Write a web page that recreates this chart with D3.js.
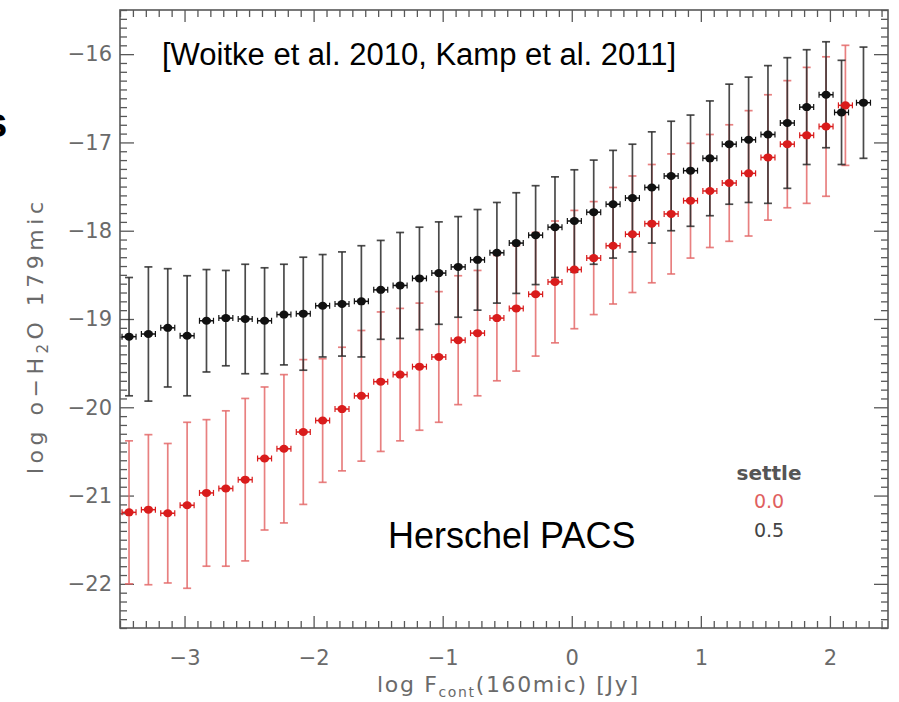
<!DOCTYPE html>
<html>
<head>
<meta charset="utf-8">
<script src="https://cdn.jsdelivr.net/npm/d3@7/dist/d3.min.js"></script>
<style>
  html, body { margin: 0; padding: 0; background: #fff; }
  svg { display: block; }
</style>
</head>
<body>
<svg id="chart" width="899" height="702"></svg>
<script>
// log F_cont(160mic) of each model bin
const xSettle00 = [-3.43, -3.28, -3.13, -2.98, -2.83, -2.68, -2.53, -2.38, -2.23, -2.08,
                   -1.93, -1.78, -1.63, -1.48, -1.33, -1.18, -1.03, -0.88, -0.73, -0.58,
                   -0.43, -0.28, -0.13, 0.02, 0.17, 0.32, 0.47, 0.62, 0.77, 0.92,
                   1.07, 1.22, 1.37, 1.52, 1.67, 1.82, 1.97, 2.12];
const xSettle05 = [-3.43, -3.28, -3.13, -2.98, -2.83, -2.68, -2.53, -2.38, -2.23, -2.08,
                   -1.93, -1.78, -1.63, -1.48, -1.33, -1.18, -1.03, -0.88, -0.73, -0.58,
                   -0.43, -0.28, -0.13, 0.02, 0.17, 0.32, 0.47, 0.62, 0.77, 0.92,
                   1.07, 1.22, 1.37, 1.52, 1.67, 1.82, 1.97, 2.09, 2.26];

// mean log line flux o-H2O 179mic per bin
const meanSettle00 = [-21.19, -21.16, -21.20, -21.11, -20.97, -20.92, -20.82, -20.58, -20.47, -20.28,
                      -20.15, -20.02, -19.87, -19.71, -19.63, -19.54, -19.43, -19.24, -19.16, -18.99,
                      -18.88, -18.72, -18.58, -18.44, -18.31, -18.17, -18.04, -17.92, -17.81, -17.66,
                      -17.55, -17.46, -17.35, -17.17, -17.02, -16.92, -16.82, -16.58];
const meanSettle05 = [-19.20, -19.17, -19.10, -19.19, -19.02, -18.99, -19.00, -19.02, -18.95, -18.94,
                      -18.85, -18.83, -18.80, -18.67, -18.62, -18.54, -18.48, -18.41, -18.33, -18.25,
                      -18.14, -18.05, -17.96, -17.89, -17.79, -17.70, -17.63, -17.51, -17.38, -17.32,
                      -17.18, -17.02, -16.97, -16.91, -16.78, -16.60, -16.46, -16.66, -16.55];

// scatter (1 sigma) per bin
const sigmaSettle00 = [0.81, 0.85, 0.79, 0.94, 0.83, 0.88, 0.92, 0.81, 0.84, 0.82,
                       0.70, 0.70, 0.74, 0.79, 0.75, 0.72, 0.74, 0.73, 0.71, 0.71,
                       0.71, 0.70, 0.69, 0.67, 0.64, 0.66, 0.66, 0.67, 0.68, 0.65,
                       0.64, 0.66, 0.71, 0.71, 0.72, 0.77, 0.79, 0.68];
const sigmaSettle05 = [0.67, 0.76, 0.67, 0.68, 0.58, 0.54, 0.62, 0.60, 0.57, 0.64,
                       0.58, 0.59, 0.63, 0.56, 0.60, 0.58, 0.58, 0.57, 0.57, 0.57,
                       0.57, 0.56, 0.57, 0.58, 0.59, 0.61, 0.61, 0.63, 0.62, 0.63,
                       0.65, 0.68, 0.71, 0.78, 0.74, 0.65, 0.60, 0.59, 0.63];

const xTicks = [-3, -2, -1, 0, 1, 2];
const yTicks = [-22, -21, -20, -19, -18, -17, -16];
const legendLabels = ["0.0", "0.5"];

const svg = d3.select("#chart");
const frame = { left: 120, right: 888, top: 10, bottom: 628 };

const x = d3.scaleLinear().domain([-3.5, 2.45]).range([frame.left, frame.right]);
const y = d3.scaleLinear().domain([-22.5, -15.5]).range([frame.bottom, frame.top]);

const axisColor = "#585858";
const labelColor = "#6a6a6a";
const font = "'DejaVu Sans', sans-serif";

const xMinor = d3.range(-35, 25).map(d => d / 10).filter(d => !xTicks.includes(Math.round(d * 10) / 10));
const yMinor = d3.range(-225, -154).map(d => d / 10).filter(d => !yTicks.includes(Math.round(d * 10) / 10));

function styleAxis(g) {
  g.select(".domain").remove();
  g.selectAll("line").attr("stroke", axisColor).attr("stroke-width", 1.3);
  g.selectAll("text").attr("fill", labelColor).attr("font-family", font).attr("font-size", 21);
}

// bottom axis with labels
svg.append("g").attr("transform", `translate(0,${frame.bottom})`)
  .call(d3.axisBottom(x).tickValues(xTicks).tickSize(-12).tickPadding(22).tickFormat(d3.format("d")))
  .call(styleAxis);
svg.append("g").attr("transform", `translate(0,${frame.bottom})`)
  .call(d3.axisBottom(x).tickValues(xMinor).tickSize(-7).tickFormat(""))
  .call(styleAxis);
// top axis, ticks only
svg.append("g").attr("transform", `translate(0,${frame.top})`)
  .call(d3.axisTop(x).tickValues(xTicks).tickSize(-12).tickFormat(""))
  .call(styleAxis);
svg.append("g").attr("transform", `translate(0,${frame.top})`)
  .call(d3.axisTop(x).tickValues(xMinor).tickSize(-7).tickFormat(""))
  .call(styleAxis);
// left axis with labels
svg.append("g").attr("transform", `translate(${frame.left},0)`)
  .call(d3.axisLeft(y).tickValues(yTicks).tickSize(-14).tickPadding(8).tickFormat(d3.format("d")))
  .call(styleAxis);
svg.append("g").attr("transform", `translate(${frame.left},0)`)
  .call(d3.axisLeft(y).tickValues(yMinor).tickSize(-7).tickFormat(""))
  .call(styleAxis);
// right axis, ticks only
svg.append("g").attr("transform", `translate(${frame.right},0)`)
  .call(d3.axisRight(y).tickValues(yTicks).tickSize(-14).tickFormat(""))
  .call(styleAxis);
svg.append("g").attr("transform", `translate(${frame.right},0)`)
  .call(d3.axisRight(y).tickValues(yMinor).tickSize(-7).tickFormat(""))
  .call(styleAxis);

// plot frame
svg.append("rect")
  .attr("x", frame.left).attr("y", frame.top)
  .attr("width", frame.right - frame.left).attr("height", frame.bottom - frame.top)
  .attr("fill", "none").attr("stroke", axisColor).attr("stroke-width", 1.6);

const series = [
  { xs: xSettle00, mean: meanSettle00, sigma: sigmaSettle00, bar: "#e46a6a", barOpacity: 0.85, mark: "#d91c1c" },
  { xs: xSettle05, mean: meanSettle05, sigma: sigmaSettle05, bar: "#2a2a2a", barOpacity: 0.85, mark: "#111111" }
];

const capHalf = 4;
const plot = svg.append("g");

// vertical error bars
series.forEach(s => {
  const g = plot.append("g").attr("stroke", s.bar).attr("stroke-opacity", s.barOpacity).attr("stroke-width", 1.7);
  s.mean.forEach((m, i) => {
    const cx = x(s.xs[i]);
    const y0 = y(m + s.sigma[i]);
    const y1 = y(m - s.sigma[i]);
    g.append("line").attr("x1", cx).attr("x2", cx).attr("y1", y0).attr("y2", y1);
    g.append("line").attr("x1", cx - capHalf).attr("x2", cx + capHalf).attr("y1", y0).attr("y2", y0);
    g.append("line").attr("x1", cx - capHalf).attr("x2", cx + capHalf).attr("y1", y1).attr("y2", y1);
  });
});

// bin markers: filled dot with a short horizontal bar
series.forEach(s => {
  const g = plot.append("g");
  s.mean.forEach((m, i) => {
    const cx = x(s.xs[i]);
    const cy = y(m);
    g.append("line").attr("x1", cx - 7).attr("x2", cx + 7).attr("y1", cy).attr("y2", cy)
      .attr("stroke", s.mark).attr("stroke-width", 1.5);
    g.append("line").attr("x1", cx - 7).attr("x2", cx - 7).attr("y1", cy - 3).attr("y2", cy + 3)
      .attr("stroke", s.mark).attr("stroke-width", 1.2);
    g.append("line").attr("x1", cx + 7).attr("x2", cx + 7).attr("y1", cy - 3).attr("y2", cy + 3)
      .attr("stroke", s.mark).attr("stroke-width", 1.2);
    g.append("ellipse").attr("cx", cx).attr("cy", cy).attr("rx", 4.6).attr("ry", 4).attr("fill", s.mark);
  });
});

// axis titles
const yTitle = svg.append("text")
  .attr("transform", "translate(43,338) rotate(-90)")
  .attr("text-anchor", "middle")
  .attr("textLength", 272).attr("lengthAdjust", "spacing")
  .attr("fill", labelColor).attr("font-family", font).attr("font-size", 22);
yTitle.append("tspan").text("log o\u2212H");
yTitle.append("tspan").attr("font-size", 15).attr("dy", 5).text("2");
yTitle.append("tspan").attr("dy", -5).text("O 179mic");

const xTitle = svg.append("text")
  .attr("x", 377).attr("y", 692)
  .attr("textLength", 261).attr("lengthAdjust", "spacing")
  .attr("fill", labelColor).attr("font-family", font).attr("font-size", 22);
xTitle.append("tspan").text("log F");
xTitle.append("tspan").attr("font-size", 14).attr("dy", 5).text("cont");
xTitle.append("tspan").attr("dy", -5).text("(160mic) [Jy]");

// legend
svg.append("text").attr("x", 769).attr("y", 480).attr("text-anchor", "middle")
  .attr("fill", "#555").attr("font-family", font).attr("font-size", 20).attr("font-weight", "bold")
  .text("settle");
svg.append("text").attr("x", 769).attr("y", 508).attr("text-anchor", "middle")
  .attr("fill", "#e06060").attr("font-family", font).attr("font-size", 19)
  .text(legendLabels[0]);
svg.append("text").attr("x", 769).attr("y", 537).attr("text-anchor", "middle")
  .attr("fill", "#444").attr("font-family", font).attr("font-size", 19)
  .text(legendLabels[1]);

// annotations
svg.append("text").attr("x", 162).attr("y", 65)
  .attr("fill", "#000").attr("font-family", "'Liberation Sans', Arial, sans-serif").attr("font-size", 31)
  .text("[Woitke et al. 2010, Kamp et al. 2011]");
svg.append("text").attr("x", 388).attr("y", 548)
  .attr("fill", "#000").attr("font-family", "'Liberation Sans', Arial, sans-serif").attr("font-size", 36)
  .text("Herschel PACS");
svg.append("text").attr("x", -16).attr("y", 137)
  .attr("fill", "#000").attr("font-family", "'Liberation Sans', Arial, sans-serif").attr("font-size", 42)
  .attr("font-weight", "bold")
  .text("s");
</script>
</body>
</html>
